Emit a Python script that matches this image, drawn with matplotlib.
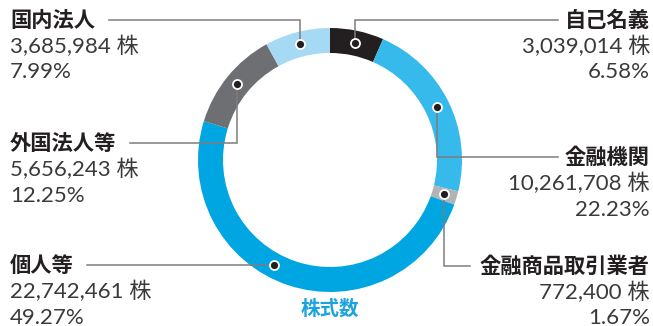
import matplotlib
matplotlib.use("Agg")
import matplotlib.pyplot as plt
import numpy as np

# 株主構成（株式数）
categories = ["自己名義", "金融機関", "金融商品取引業者", "個人等", "外国法人等", "国内法人"]
shares = [3039014, 10261708, 772400, 22742461, 5656243, 3685984]
percents = [6.58, 22.23, 1.67, 49.27, 12.25, 7.99]
colors = ["#231F20", "#36B9EB", "#B2B3B5", "#00A6E1", "#6E6F73", "#A5D9F4"]
center_label = "株式数"

# dot position along each segment (0..1)
dot_frac = [0.5, 0.5, 0.5, 0.554, 0.5, 0.5]

# label layout (pixel coords, y from top): side, title y, line end x
label_side = ["right", "right", "right", "left", "left", "left"]
label_y = [20, 157, 266, 265, 143, 20]
line_end_x = [558, 558, 470, 87, 130, 109]

W, H = 653, 326
CX, CY = 330, 160
R_OUT, R_W = 132, 25

plt.rcParams['font.family'] = ['Lato', 'Noto Sans CJK JP', 'DejaVu Sans']
CJK = ['Noto Sans CJK JP', 'DejaVu Sans']
NUM = ['Lato', 'Noto Sans CJK JP', 'DejaVu Sans']

fig = plt.figure(figsize=(W / 100, H / 100), dpi=100)
ax = fig.add_axes([0, 0, 1, 1])

ax.pie(shares, colors=colors, startangle=90, counterclock=False,
       radius=R_OUT, center=(CX, H - CY),
       wedgeprops=dict(width=R_W, edgecolor='none'))
ax.set_xlim(0, W)
ax.set_ylim(0, H)
ax.set_aspect('auto')
ax.axis('off')

total = sum(shares)
cum = np.concatenate([[0], np.cumsum(shares)[:-1]])
r_mid = R_OUT - R_W / 2

for i, cat in enumerate(categories):
    f = (cum[i] + dot_frac[i] * shares[i]) / total
    th = np.deg2rad(90 - 360 * f)
    dx = CX + r_mid * np.cos(th)
    dy = (H - CY) + r_mid * np.sin(th)
    ly = H - label_y[i]
    ax.plot([dx, dx, line_end_x[i]], [dy, ly, ly], color='#7d7d7d', lw=1.1,
            solid_joinstyle='miter', zorder=3)
    ax.plot(dx, dy, 'o', ms=6.5, mfc='#231F20', mec='white', mew=1.3, zorder=4)

    if label_side[i] == "right":
        tx, ha = W - 3, 'right'
    else:
        tx, ha = 10, 'left'
    ax.text(tx, ly, cat, ha=ha, va='center', fontsize=15.3, fontweight='bold',
            color='#231F20', family=CJK)
    ax.text(tx, ly - 26, f"{shares[i]:,} 株", ha=ha, va='center', fontsize=16,
            fontweight='normal', color='#3a3a3a', family=NUM)
    ax.text(tx, ly - 52.5, f"{percents[i]:.2f}%", ha=ha, va='center', fontsize=16,
            fontweight='normal', color='#3a3a3a', family=NUM)

ax.text(CX, H - 309, center_label, ha='center', va='center', fontsize=14,
        fontweight='bold', color='#1AA3DC', family=CJK)

fig.savefig("out.png", dpi=100)
